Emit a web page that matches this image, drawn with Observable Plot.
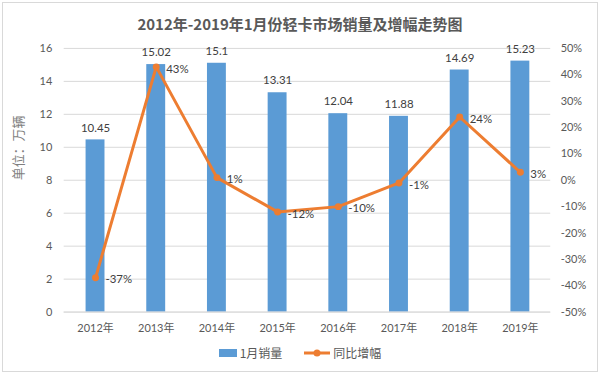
<!DOCTYPE html>
<html><head><meta charset="utf-8">
<script src="https://cdn.jsdelivr.net/npm/d3@7"></script>
<script src="https://cdn.jsdelivr.net/npm/@observablehq/plot@0.6"></script>
<style>
body{margin:0;background:#fff;}
#wrap{position:relative;width:594px;height:368px;margin:2px;border:1px solid #d9d9d9;font-family:Lato,"Noto Sans CJK SC",sans-serif;color:#595959;}
#title{position:absolute;left:0;top:10px;width:100%;text-align:center;font-size:15px;font-weight:bold;color:#595959;font-family:"Noto Sans CJK SC",sans-serif;}
#chart{position:absolute;left:-3px;top:31px;}
#legend{position:absolute;left:0;top:341px;width:100%;display:flex;justify-content:center;gap:22px;font-size:12px;font-family:"Noto Sans CJK SC",sans-serif;}
.li{display:flex;align-items:center;gap:3px;}
</style></head><body>
<div id="wrap">
<div id="title">2012年-2019年1月份轻卡市场销量及增幅走势图</div>
<div id="chart"></div>
<div id="legend"></div>
</div>
<script>
const years = ["2012年","2013年","2014年","2015年","2016年","2017年","2018年","2019年"];
const sales = [10.45,15.02,15.1,13.31,12.04,11.88,14.69,15.23];
const growth = [-37,43,1,-12,-10,-1,24,3];
const leftTicks = [0,2,4,6,8,10,12,14,16];
const rightTicks = [-50,-40,-30,-20,-10,0,10,20,30,40,50];
const seriesNames = ["1月销量","同比增幅"];

const blue = "#5B9BD5", orange = "#ED7D31";
const toY = p => (p + 50) / 100 * 16;
const rows = years.map((y,i)=>({year:y, sales:sales[i], growth:growth[i], gy:toY(growth[i])}));

const plot = Plot.plot({
  width: 600, height: 310,
  marginLeft: 64, marginRight: 47, marginTop: 14, marginBottom: 31,
  style: {fontFamily: "Lato, 'Noto Sans CJK SC', sans-serif", fontSize: "11px", color: "#595959"},
  x: {domain: years, paddingInner: 0.69, paddingOuter: 0.345, label: null},
  y: {domain: [0,16], label: null},
  marks: [
    Plot.gridY(leftTicks, {stroke: "#d9d9d9", strokeOpacity: 1}),
    Plot.barY(rows, {x: "year", y: "sales", fill: blue}),
    Plot.axisY(leftTicks, {anchor: "left", tickSize: 0, tickPadding: 12, fontSize: 11, label: null}),
    Plot.axisY(rightTicks.map(toY), {anchor: "right", tickSize: 0, tickPadding: 10, label: null,
      tickFormat: d => Math.round(d / 16 * 100 - 50) + "%", textAnchor: "start"}),
    Plot.axisX({tickSize: 0, tickPadding: 12, label: null, fontSize: 11}),
    Plot.ruleY([0], {stroke: "#d9d9d9"}),
    Plot.text(rows, {x: "year", y: "sales", text: d => String(d.sales), dy: -12, fontSize: 11.5, fill: "#404040"}),
    Plot.line(rows, {x: "year", y: "gy", stroke: orange, strokeWidth: 3}),
    Plot.dot(rows, {x: "year", y: "gy", fill: orange, r: 3.5}),
    Plot.text(rows, {x: "year", y: "gy", text: d => d.growth + "%", dx: 10, dy: 2, textAnchor: "start", fontSize: 11.5, fill: "#404040"}),
    Plot.text(["单位：万辆"], {frameAnchor: "left", dx: -46, rotate: -90, fontSize: 13, fill: "#7f7f7f", fontFamily: "'Noto Sans CJK SC', sans-serif"})
  ]
});
document.getElementById("chart").appendChild(plot);

const leg = d3.select("#legend");
const a = leg.append("div").attr("class","li");
a.append("svg").attr("width",18).attr("height",8).append("rect").attr("width",18).attr("height",8).attr("fill",blue);
a.append("span").text(seriesNames[0]);
const b = leg.append("div").attr("class","li");
const s = b.append("svg").attr("width",26).attr("height",8);
s.append("line").attr("x1",0).attr("x2",26).attr("y1",4).attr("y2",4).attr("stroke",orange).attr("stroke-width",3);
s.append("circle").attr("cx",13).attr("cy",4).attr("r",3.5).attr("fill",orange);
b.append("span").text(seriesNames[1]);
</script>
</body></html>
